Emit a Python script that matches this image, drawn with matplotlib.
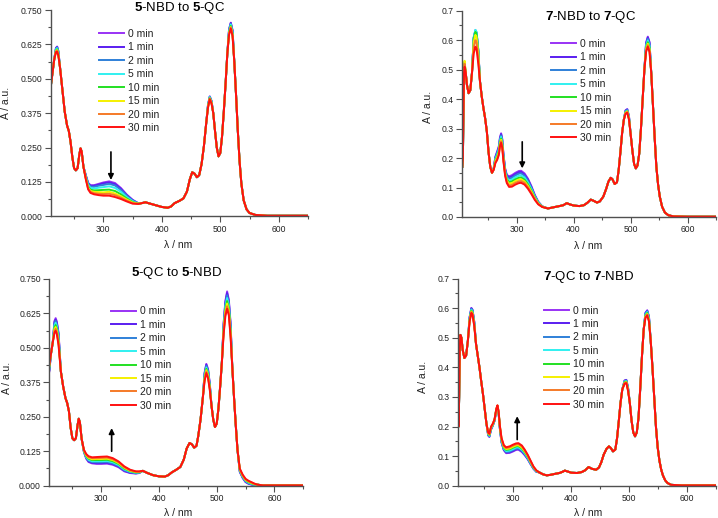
import matplotlib
matplotlib.use("Agg")
import matplotlib.pyplot as plt
from matplotlib.ticker import MultipleLocator, FormatStrFormatter

plt.rcParams['font.family'] = ['Liberation Sans', 'DejaVu Sans']
plt.rcParams['mathtext.fontset'] = 'custom'
plt.rcParams['mathtext.rm'] = 'Liberation Sans'
plt.rcParams['mathtext.bf'] = 'Liberation Sans:bold'

times = ['0 min', '1 min', '2 min', '5 min', '10 min', '15 min', '20 min', '30 min']
colors = ['#9932f5', '#5a1ef0', '#2f80d8', '#30f0f0', '#22e022', '#f5f000', '#f57a28', '#ff1010']

# ---------------- Panel 1: 5-NBD to 5-QC (30 min spectrum = base) ----------------
p1_wl = [210, 213, 216, 219, 221, 223, 226, 230, 234, 238, 241, 244, 247, 250, 253, 256, 259, 261, 263,
         266, 270, 274, 278, 284, 292, 300, 310, 320, 330, 340, 350, 360, 366, 372, 380, 390, 400, 410,
         416, 422, 430, 437, 443, 448, 452, 456, 460, 464, 468, 472, 476, 479, 482, 485, 488, 491, 494,
         497, 500, 503, 506, 509, 512, 515, 518, 521, 524, 527, 530, 533, 536, 540, 545, 550, 560, 580,
         600, 650]
p1_base = [0.47, 0.52, 0.57, 0.597, 0.599, 0.585, 0.54, 0.46, 0.38, 0.33, 0.31, 0.27, 0.215, 0.175, 0.167,
           0.175, 0.225, 0.247, 0.235, 0.18, 0.135, 0.098, 0.085, 0.080, 0.077, 0.075, 0.075, 0.070, 0.063,
           0.054, 0.046, 0.045, 0.048, 0.051, 0.046, 0.040, 0.034, 0.031, 0.036, 0.048, 0.056, 0.065, 0.090,
           0.135, 0.160, 0.155, 0.142, 0.150, 0.19, 0.255, 0.34, 0.395, 0.426, 0.41, 0.375, 0.31, 0.25,
           0.218, 0.23, 0.29, 0.38, 0.48, 0.59, 0.66, 0.683, 0.655, 0.56, 0.44, 0.31, 0.20, 0.12, 0.058,
           0.025, 0.012, 0.005, 0.002, 0.002, 0.002]
# values of each time point (0..30 min) where the spectra differ
p1_var = {
    219: [0.612, 0.611, 0.609, 0.607, 0.603, 0.601, 0.599, 0.597],
    221: [0.617, 0.616, 0.614, 0.611, 0.607, 0.604, 0.601, 0.599],
    223: [0.602, 0.601, 0.599, 0.596, 0.592, 0.589, 0.587, 0.585],
    270: [0.150, 0.149, 0.147, 0.145, 0.141, 0.139, 0.137, 0.135],
    274: [0.122, 0.120, 0.118, 0.114, 0.108, 0.104, 0.101, 0.098],
    278: [0.113, 0.111, 0.108, 0.103, 0.097, 0.092, 0.089, 0.085],
    284: [0.113, 0.111, 0.107, 0.101, 0.094, 0.089, 0.084, 0.080],
    292: [0.118, 0.115, 0.111, 0.104, 0.095, 0.088, 0.082, 0.077],
    300: [0.123, 0.120, 0.114, 0.106, 0.096, 0.087, 0.081, 0.075],
    310: [0.127, 0.123, 0.118, 0.109, 0.097, 0.089, 0.082, 0.075],
    320: [0.121, 0.117, 0.112, 0.103, 0.092, 0.083, 0.077, 0.070],
    330: [0.103, 0.100, 0.096, 0.089, 0.080, 0.073, 0.068, 0.063],
    340: [0.079, 0.077, 0.075, 0.070, 0.065, 0.061, 0.057, 0.054],
    350: [0.060, 0.059, 0.057, 0.055, 0.052, 0.050, 0.048, 0.046],
    360: [0.047, 0.047, 0.047, 0.046, 0.046, 0.046, 0.045, 0.045],
    479: [0.405, 0.404, 0.403, 0.402, 0.399, 0.398, 0.396, 0.395],
    482: [0.436, 0.435, 0.434, 0.433, 0.430, 0.429, 0.427, 0.426],
    485: [0.420, 0.419, 0.418, 0.417, 0.414, 0.413, 0.411, 0.410],
    515: [0.680, 0.679, 0.676, 0.673, 0.669, 0.665, 0.663, 0.660],
    518: [0.704, 0.703, 0.700, 0.697, 0.692, 0.688, 0.686, 0.683],
    521: [0.676, 0.675, 0.672, 0.669, 0.664, 0.660, 0.658, 0.655],
}

# ---------------- Panel 2: 7-NBD to 7-QC ----------------
p2_wl = [205, 206, 207, 208, 209, 211, 213, 216, 219, 222, 225, 228, 230, 233, 236, 239, 242, 245, 248,
         251, 254, 257, 260, 263, 266, 269, 271, 273, 275, 277, 280, 283, 287, 292, 298, 304, 308, 314,
         320, 326, 332, 338, 345, 355, 365, 375, 382, 388, 393, 400, 410, 418, 424, 430, 435, 441, 446,
         452, 457, 461, 465, 468, 472, 476, 479, 482, 485, 488, 491, 494, 497, 500, 503, 506, 509, 512,
         515, 518, 521, 524, 527, 530, 533, 536, 539, 542, 545, 548, 551, 555, 560, 566, 575, 600, 650]
p2_base = [0.17, 0.20, 0.35, 0.49, 0.51, 0.49, 0.45, 0.42, 0.43, 0.49, 0.555, 0.578, 0.57, 0.52, 0.46,
           0.41, 0.37, 0.335, 0.29, 0.22, 0.17, 0.15, 0.16, 0.183, 0.193, 0.21, 0.24, 0.252, 0.235, 0.19,
           0.14, 0.115, 0.102, 0.103, 0.110, 0.115, 0.116, 0.110, 0.096, 0.078, 0.058, 0.043, 0.034,
           0.029, 0.033, 0.037, 0.040, 0.047, 0.043, 0.039, 0.037, 0.040, 0.048, 0.059, 0.055, 0.049,
           0.053, 0.069, 0.095, 0.12, 0.133, 0.128, 0.112, 0.118, 0.16, 0.22, 0.285, 0.33, 0.35, 0.354,
           0.33, 0.28, 0.225, 0.18, 0.165, 0.175, 0.215, 0.30, 0.40, 0.50, 0.56, 0.578, 0.56, 0.49, 0.38,
           0.27, 0.17, 0.11, 0.069, 0.035, 0.015, 0.006, 0.002, 0.001, 0.001]
p2_var = {
    209: [0.510, 0.510, 0.515, 0.520, 0.525, 0.530, 0.520, 0.510],
    225: [0.607, 0.608, 0.609, 0.610, 0.604, 0.594, 0.577, 0.555],
    228: [0.632, 0.633, 0.634, 0.635, 0.628, 0.618, 0.600, 0.578],
    230: [0.624, 0.625, 0.626, 0.627, 0.620, 0.610, 0.592, 0.570],
    233: [0.565, 0.566, 0.566, 0.567, 0.561, 0.552, 0.537, 0.520],
    260: [0.165, 0.165, 0.164, 0.163, 0.162, 0.162, 0.161, 0.160],
    263: [0.205, 0.203, 0.200, 0.197, 0.193, 0.190, 0.186, 0.183],
    266: [0.222, 0.219, 0.216, 0.211, 0.206, 0.202, 0.197, 0.193],
    269: [0.240, 0.237, 0.233, 0.229, 0.224, 0.219, 0.215, 0.210],
    271: [0.270, 0.267, 0.263, 0.259, 0.254, 0.249, 0.245, 0.240],
    273: [0.284, 0.281, 0.277, 0.272, 0.266, 0.262, 0.257, 0.252],
    275: [0.265, 0.262, 0.258, 0.254, 0.249, 0.244, 0.240, 0.235],
    277: [0.215, 0.213, 0.210, 0.206, 0.201, 0.198, 0.194, 0.190],
    280: [0.165, 0.163, 0.160, 0.156, 0.151, 0.148, 0.144, 0.140],
    283: [0.143, 0.140, 0.137, 0.132, 0.128, 0.123, 0.119, 0.115],
    287: [0.138, 0.134, 0.130, 0.124, 0.118, 0.113, 0.107, 0.102],
    292: [0.142, 0.138, 0.133, 0.127, 0.121, 0.115, 0.109, 0.103],
    298: [0.150, 0.146, 0.141, 0.135, 0.128, 0.122, 0.116, 0.110],
    304: [0.156, 0.152, 0.147, 0.140, 0.133, 0.127, 0.121, 0.115],
    308: [0.157, 0.153, 0.148, 0.141, 0.134, 0.128, 0.122, 0.116],
    314: [0.148, 0.144, 0.140, 0.134, 0.127, 0.121, 0.116, 0.110],
    320: [0.130, 0.127, 0.123, 0.117, 0.111, 0.106, 0.101, 0.096],
    326: [0.105, 0.102, 0.099, 0.095, 0.090, 0.086, 0.082, 0.078],
    332: [0.075, 0.073, 0.071, 0.069, 0.066, 0.063, 0.061, 0.058],
    338: [0.052, 0.051, 0.050, 0.049, 0.047, 0.046, 0.044, 0.043],
    345: [0.036, 0.036, 0.036, 0.035, 0.035, 0.035, 0.034, 0.034],
    491: [0.362, 0.361, 0.359, 0.357, 0.355, 0.354, 0.352, 0.350],
    494: [0.366, 0.365, 0.363, 0.361, 0.359, 0.358, 0.356, 0.354],
    497: [0.342, 0.341, 0.339, 0.337, 0.335, 0.334, 0.332, 0.330],
    527: [0.592, 0.589, 0.585, 0.580, 0.574, 0.570, 0.565, 0.560],
    530: [0.612, 0.609, 0.605, 0.599, 0.593, 0.588, 0.583, 0.578],
    533: [0.594, 0.591, 0.587, 0.581, 0.575, 0.570, 0.565, 0.560],
}

# ---------------- Panel 3: 5-QC to 5-NBD ----------------
p3_wl = [210, 213, 216, 219, 221, 223, 226, 230, 234, 238, 241, 244, 247, 250, 253, 256, 259, 261, 263,
         266, 270, 274, 278, 284, 292, 300, 310, 320, 330, 340, 350, 360, 366, 372, 380, 390, 400, 410,
         416, 422, 430, 437, 443, 448, 453, 457, 461, 465, 468, 472, 476, 479, 482, 485, 488, 491, 494,
         497, 500, 503, 506, 509, 512, 515, 518, 521, 524, 527, 530, 533, 536, 540, 545, 550, 555, 560,
         565, 570, 580, 600, 650]
p3_base = [0.44, 0.48, 0.52, 0.555, 0.562, 0.55, 0.51, 0.415, 0.36, 0.318, 0.30, 0.27, 0.21, 0.172,
           0.165, 0.172, 0.22, 0.243, 0.23, 0.17, 0.13, 0.115, 0.107, 0.103, 0.104, 0.105, 0.106, 0.100,
           0.088, 0.070, 0.058, 0.052, 0.052, 0.054, 0.046, 0.038, 0.034, 0.033, 0.038, 0.048, 0.058,
           0.068, 0.095, 0.135, 0.155, 0.150, 0.138, 0.145, 0.18, 0.24, 0.32, 0.38, 0.409, 0.39, 0.348,
           0.29, 0.24, 0.213, 0.225, 0.28, 0.36, 0.45, 0.55, 0.615, 0.642, 0.618, 0.54, 0.43, 0.32, 0.22,
           0.13, 0.062, 0.040, 0.025, 0.018, 0.013, 0.008, 0.004, 0.001, 0.001, 0.001]
p3_var = {
    210: [0.415, 0.418, 0.420, 0.425, 0.430, 0.433, 0.437, 0.440],
    219: [0.598, 0.594, 0.589, 0.582, 0.574, 0.568, 0.561, 0.555],
    221: [0.608, 0.603, 0.598, 0.591, 0.583, 0.576, 0.569, 0.562],
    223: [0.596, 0.591, 0.586, 0.579, 0.571, 0.564, 0.557, 0.550],
    226: [0.555, 0.551, 0.545, 0.538, 0.530, 0.524, 0.517, 0.510],
    270: [0.122, 0.123, 0.124, 0.125, 0.126, 0.128, 0.129, 0.130],
    274: [0.098, 0.100, 0.102, 0.104, 0.107, 0.110, 0.112, 0.115],
    278: [0.086, 0.088, 0.091, 0.094, 0.098, 0.101, 0.104, 0.107],
    284: [0.081, 0.083, 0.086, 0.089, 0.093, 0.096, 0.100, 0.103],
    292: [0.079, 0.082, 0.085, 0.089, 0.093, 0.097, 0.100, 0.104],
    300: [0.079, 0.082, 0.085, 0.089, 0.093, 0.097, 0.101, 0.105],
    310: [0.080, 0.083, 0.086, 0.090, 0.094, 0.098, 0.102, 0.106],
    320: [0.076, 0.078, 0.081, 0.085, 0.089, 0.093, 0.096, 0.100],
    330: [0.067, 0.069, 0.072, 0.075, 0.079, 0.082, 0.085, 0.088],
    340: [0.052, 0.054, 0.056, 0.059, 0.062, 0.065, 0.067, 0.070],
    350: [0.046, 0.047, 0.049, 0.051, 0.053, 0.054, 0.056, 0.058],
    360: [0.044, 0.045, 0.046, 0.047, 0.048, 0.050, 0.051, 0.052],
    366: [0.046, 0.047, 0.047, 0.048, 0.049, 0.050, 0.051, 0.052],
    479: [0.410, 0.407, 0.403, 0.399, 0.394, 0.389, 0.385, 0.380],
    482: [0.442, 0.439, 0.435, 0.429, 0.424, 0.419, 0.414, 0.409],
    485: [0.423, 0.420, 0.416, 0.410, 0.405, 0.400, 0.395, 0.390],
    488: [0.370, 0.368, 0.365, 0.362, 0.358, 0.355, 0.351, 0.348],
    512: [0.590, 0.586, 0.581, 0.575, 0.568, 0.562, 0.556, 0.550],
    515: [0.670, 0.665, 0.658, 0.649, 0.640, 0.632, 0.623, 0.615],
    518: [0.705, 0.699, 0.691, 0.681, 0.670, 0.661, 0.651, 0.642],
    521: [0.675, 0.669, 0.662, 0.653, 0.644, 0.635, 0.627, 0.618],
    524: [0.590, 0.585, 0.579, 0.571, 0.563, 0.555, 0.548, 0.540],
    540: [0.050, 0.051, 0.053, 0.055, 0.057, 0.058, 0.060, 0.062],
    545: [0.028, 0.029, 0.031, 0.033, 0.035, 0.036, 0.038, 0.040],
    550: [0.013, 0.014, 0.016, 0.018, 0.020, 0.021, 0.023, 0.025],
    555: [0.007, 0.008, 0.009, 0.011, 0.013, 0.015, 0.016, 0.018],
    560: [0.004, 0.005, 0.006, 0.007, 0.009, 0.010, 0.012, 0.013],
    565: [0.002, 0.003, 0.003, 0.004, 0.005, 0.006, 0.007, 0.008],
}

# ---------------- Panel 4: 7-QC to 7-NBD ----------------
p4_wl = [205, 206, 207, 208, 209, 211, 213, 216, 219, 222, 225, 228, 230, 233, 236, 239, 242, 245, 248,
         251, 254, 257, 259, 262, 265, 268, 271, 273, 275, 277, 280, 284, 288, 294, 300, 305, 309, 315,
         320, 325, 330, 335, 340, 345, 352, 358, 365, 372, 380, 385, 389, 394, 400, 410, 418, 424, 430,
         436, 443, 448, 452, 456, 461, 465, 468, 472, 476, 479, 482, 485, 488, 492, 495, 498, 501, 504,
         507, 510, 513, 516, 519, 522, 525, 528, 531, 534, 537, 540, 543, 546, 549, 552, 555, 558, 562,
         566, 572, 590, 650]
p4_base = [0.43, 0.20, 0.30, 0.46, 0.51, 0.50, 0.46, 0.432, 0.44, 0.49, 0.555, 0.584, 0.578, 0.54, 0.48,
           0.44, 0.40, 0.353, 0.31, 0.26, 0.21, 0.18, 0.176, 0.20, 0.21, 0.225, 0.26, 0.272, 0.25, 0.205,
           0.161, 0.137, 0.130, 0.133, 0.139, 0.143, 0.144, 0.136, 0.122, 0.105, 0.085, 0.065, 0.052,
           0.045, 0.038, 0.035, 0.037, 0.040, 0.043, 0.047, 0.051, 0.048, 0.044, 0.043, 0.046, 0.052,
           0.063, 0.057, 0.054, 0.062, 0.080, 0.105, 0.125, 0.133, 0.128, 0.116, 0.122, 0.16, 0.218,
           0.28, 0.325, 0.345, 0.347, 0.32, 0.28, 0.22, 0.18, 0.167, 0.18, 0.23, 0.33, 0.44, 0.53, 0.568,
           0.576, 0.555, 0.49, 0.40, 0.30, 0.20, 0.13, 0.085, 0.055, 0.035, 0.018, 0.009, 0.003, 0.001,
           0.001]
p4_var = {
    225: [0.570, 0.569, 0.567, 0.565, 0.562, 0.560, 0.557, 0.555],
    228: [0.601, 0.600, 0.598, 0.595, 0.592, 0.589, 0.587, 0.584],
    230: [0.595, 0.594, 0.592, 0.589, 0.586, 0.583, 0.581, 0.578],
    233: [0.555, 0.554, 0.552, 0.550, 0.547, 0.545, 0.542, 0.540],
    257: [0.170, 0.171, 0.172, 0.174, 0.176, 0.177, 0.179, 0.180],
    259: [0.165, 0.166, 0.167, 0.169, 0.171, 0.173, 0.174, 0.176],
    262: [0.190, 0.191, 0.192, 0.194, 0.196, 0.197, 0.199, 0.200],
    265: [0.203, 0.204, 0.204, 0.205, 0.207, 0.208, 0.209, 0.210],
    268: [0.220, 0.220, 0.221, 0.222, 0.223, 0.224, 0.224, 0.225],
    271: [0.255, 0.255, 0.256, 0.257, 0.258, 0.259, 0.259, 0.260],
    273: [0.268, 0.268, 0.269, 0.269, 0.270, 0.271, 0.271, 0.272],
    275: [0.245, 0.245, 0.246, 0.247, 0.248, 0.249, 0.249, 0.250],
    277: [0.195, 0.196, 0.197, 0.199, 0.201, 0.202, 0.204, 0.205],
    280: [0.146, 0.147, 0.149, 0.151, 0.154, 0.157, 0.159, 0.161],
    284: [0.120, 0.121, 0.123, 0.126, 0.129, 0.132, 0.134, 0.137],
    288: [0.110, 0.112, 0.114, 0.117, 0.121, 0.124, 0.127, 0.130],
    294: [0.111, 0.113, 0.115, 0.119, 0.123, 0.126, 0.130, 0.133],
    300: [0.116, 0.118, 0.121, 0.124, 0.129, 0.132, 0.136, 0.139],
    305: [0.121, 0.123, 0.125, 0.129, 0.133, 0.136, 0.140, 0.143],
    309: [0.122, 0.124, 0.126, 0.130, 0.134, 0.137, 0.141, 0.144],
    315: [0.114, 0.116, 0.118, 0.122, 0.126, 0.129, 0.133, 0.136],
    320: [0.103, 0.105, 0.107, 0.110, 0.113, 0.116, 0.119, 0.122],
    325: [0.090, 0.091, 0.093, 0.095, 0.098, 0.101, 0.103, 0.105],
    330: [0.073, 0.074, 0.075, 0.077, 0.080, 0.081, 0.083, 0.085],
    335: [0.057, 0.058, 0.059, 0.060, 0.061, 0.063, 0.064, 0.065],
    340: [0.047, 0.047, 0.048, 0.049, 0.050, 0.051, 0.051, 0.052],
    492: [0.356, 0.355, 0.354, 0.352, 0.350, 0.348, 0.347, 0.345],
    495: [0.358, 0.357, 0.356, 0.354, 0.352, 0.350, 0.349, 0.347],
    498: [0.331, 0.330, 0.329, 0.327, 0.325, 0.323, 0.322, 0.320],
    528: [0.585, 0.584, 0.582, 0.579, 0.576, 0.573, 0.571, 0.568],
    531: [0.593, 0.592, 0.590, 0.587, 0.584, 0.581, 0.579, 0.576],
    534: [0.572, 0.571, 0.569, 0.566, 0.563, 0.560, 0.558, 0.555],
}


def build_series(wl, base, var, k):
    vals = list(base)
    for lam, row in var.items():
        vals[wl.index(lam)] = row[k]
    return vals


W, H = 718, 518
fig = plt.figure(figsize=(W / 100, H / 100), dpi=100)


def rect(l, r, t, b):
    return [l / W, 1 - b / H, (r - l) / W, (b - t) / H]


panels = [
    dict(wl=p1_wl, base=p1_base, var=p1_var, r=rect(50.7, 308, 10, 216.3), xlim=(210, 650), ymax=0.75,
         ymaj=0.125, fmt='%.3f', title=r'$\mathbf{5}$-NBD to $\mathbf{5}$-QC', tpos=(180, 7.5),
         leg=(99, 29), ylab=(6, 103), xlab=(178, 245), arrow=(313, 0.234, 0.132)),
    dict(wl=p2_wl, base=p2_base, var=p2_var, r=rect(462.3, 716.3, 10.7, 217), xlim=(205, 650), ymax=0.7,
         ymaj=0.1, fmt='%.1f', title=r'$\mathbf{7}$-NBD to $\mathbf{7}$-QC', tpos=(591, 17),
         leg=(551, 39), ylab=(428, 107), xlab=(588, 246), arrow=(310, 0.255, 0.165)),
    dict(wl=p3_wl, base=p3_base, var=p3_var, r=rect(49.3, 303.3, 279, 485.7), xlim=(210, 650), ymax=0.75,
         ymaj=0.125, fmt='%.3f', title=r'$\mathbf{5}$-QC to $\mathbf{5}$-NBD', tpos=(177, 273),
         leg=(111, 306.5), ylab=(7, 378), xlab=(178, 513), arrow=(318, 0.125, 0.209)),
    dict(wl=p4_wl, base=p4_base, var=p4_var, r=rect(458, 716.3, 278.7, 485.7), xlim=(205, 650), ymax=0.7,
         ymaj=0.1, fmt='%.1f', title=r'$\mathbf{7}$-QC to $\mathbf{7}$-NBD', tpos=(589, 277),
         leg=(544, 305.5), ylab=(423, 377), xlab=(588, 513), arrow=(307, 0.156, 0.235)),
]

text_col = '#222222'
axis_col = '#505050'

for p in panels:
    ax = fig.add_axes(p['r'])
    lines = []
    for k, (t, c) in enumerate(zip(times, colors)):
        y = build_series(p['wl'], p['base'], p['var'], k)
        ln, = ax.plot(p['wl'], y, color=c, lw=1.4, label=t, solid_joinstyle='round')
        lines.append(ln)
    ax.set_xlim(*p['xlim'])
    ax.set_ylim(0, p['ymax'])
    ax.xaxis.set_major_locator(MultipleLocator(100))
    ax.xaxis.set_minor_locator(MultipleLocator(50))
    ax.yaxis.set_major_locator(MultipleLocator(p['ymaj']))
    ax.yaxis.set_minor_locator(MultipleLocator(p['ymaj'] / 2))
    ax.yaxis.set_major_formatter(FormatStrFormatter(p['fmt']))
    for s in ['top', 'right']:
        ax.spines[s].set_visible(False)
    for s in ['left', 'bottom']:
        ax.spines[s].set_color(axis_col)
        ax.spines[s].set_linewidth(1.0)
    ax.tick_params(which='major', direction='out', length=4, width=0.8, color=axis_col,
                   labelsize=6.2, labelcolor=text_col, pad=2)
    ax.tick_params(which='minor', direction='out', length=2.5, width=0.8, color=axis_col)
    ax.set_facecolor('none')

    lam, y0, y1 = p['arrow']
    ax.annotate('', xy=(lam, y1), xytext=(lam, y0),
                arrowprops=dict(arrowstyle='-|>', color='black', lw=1.2, mutation_scale=8,
                                shrinkA=0, shrinkB=0))

    ax.legend(handles=lines, loc='upper left', bbox_to_anchor=(p['leg'][0] / W, 1 - p['leg'][1] / H),
              bbox_transform=fig.transFigure, frameon=False, fontsize=7.5, handlelength=2.4,
              handletextpad=0.35, labelspacing=0.33, borderpad=0, borderaxespad=0,
              labelcolor=text_col)

    fig.text(p['tpos'][0] / W, 1 - p['tpos'][1] / H, p['title'], ha='center', va='center',
             fontsize=9.5, color='black')
    fig.text(p['ylab'][0] / W, 1 - p['ylab'][1] / H, 'A / a.u.', rotation=90, ha='center', va='center',
             fontsize=7.5, color=text_col)
    fig.text(p['xlab'][0] / W, 1 - p['xlab'][1] / H, 'λ / nm', ha='center', va='center',
             fontsize=7.5, color=text_col)

fig.savefig('out.png', dpi=100)
